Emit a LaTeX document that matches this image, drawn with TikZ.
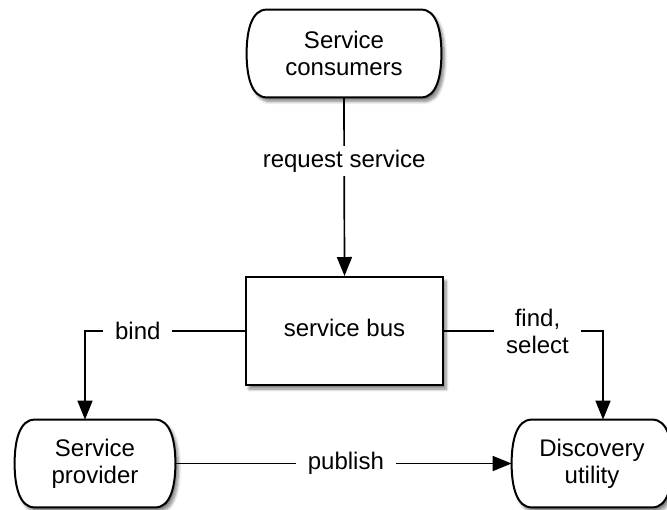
\documentclass[tikz,border=0pt]{standalone}
\usepackage{fontspec}
\setmainfont{Liberation Sans}
\usetikzlibrary{arrows.meta,calc,shadows.blur,backgrounds}

% Outline of a capsule-like node: flat top and bottom, bulging sides
\newcommand\capsulepath[1]{%
  \draw[outline, fill=white, drop]
    ($(#1.north west)+(10pt,0pt)$) -- ($(#1.north east)+(-10pt,0pt)$)
    .. controls ($(#1.north east)+(-2.5pt,0pt)$) and ($(#1.east)+(0pt,11.5pt)$) .. (#1.east)
    .. controls ($(#1.east)+(0pt,-11.5pt)$) and ($(#1.south east)+(-2.5pt,0pt)$) .. ($(#1.south east)+(-10pt,0pt)$)
    -- ($(#1.south west)+(10pt,0pt)$)
    .. controls ($(#1.south west)+(2.5pt,0pt)$) and ($(#1.west)+(0pt,-11.5pt)$) .. (#1.west)
    .. controls ($(#1.west)+(0pt,11.5pt)$) and ($(#1.north west)+(2.5pt,0pt)$) .. cycle;}

\begin{document}
\begin{tikzpicture}[x=0.5pt,y=-0.5pt,
  lbl/.style={font=\fontsize{12}{13.5}\selectfont, align=center},
  drop/.style={blur shadow={shadow xshift=1.5pt, shadow yshift=-2pt,
      shadow blur radius=1.5pt, shadow blur steps=6, shadow opacity=50}},
  outline/.style={line width=1pt},
  capsule/.style={lbl, rectangle, inner sep=0pt, minimum width=#1, minimum height=43.5pt},
  busbox/.style={lbl, draw, outline, fill=white, drop, inner sep=0pt, text depth=3pt,
      minimum width=98.5pt, minimum height=54pt},
  conn/.style={line width=0.85pt, -{Triangle[length=9.5pt,width=7.5pt]}},
  tag/.style={lbl, fill=white, inner xsep=6pt, inner ysep=2pt}
]
\useasboundingbox (0,0) rectangle (667,509);

% nodes
\node[capsule=97pt]   (cons) at (344,53.5)  {Service\\consumers};
\node[busbox]         (bus)  at (344.5,331) {service bus};
\node[capsule=80pt]   (prov) at (95,463.5)  {Service\\provider};
\node[capsule=80pt]   (disc) at (592,463.5) {Discovery\\utility};

\begin{scope}[on background layer]
  \capsulepath{cons}
  \capsulepath{prov}
  \capsulepath{disc}
\end{scope}

% connectors
\draw[conn] (cons.south) -- (bus.north)
  node[tag, pos=0.356] {request service};
\draw[conn] (bus.west) -| ($(prov.north)+(-5pt,0pt)$)
  node[tag, pos=0.335] {bind};
\draw[conn] (bus.east) -| ($(disc.north)+(5.5pt,0pt)$)
  node[tag, pos=0.294] {find,\\select};
\draw[conn] (prov.east) -- (disc.west)
  node[tag, pos=0.507] {publish};
\end{tikzpicture}
\end{document}
